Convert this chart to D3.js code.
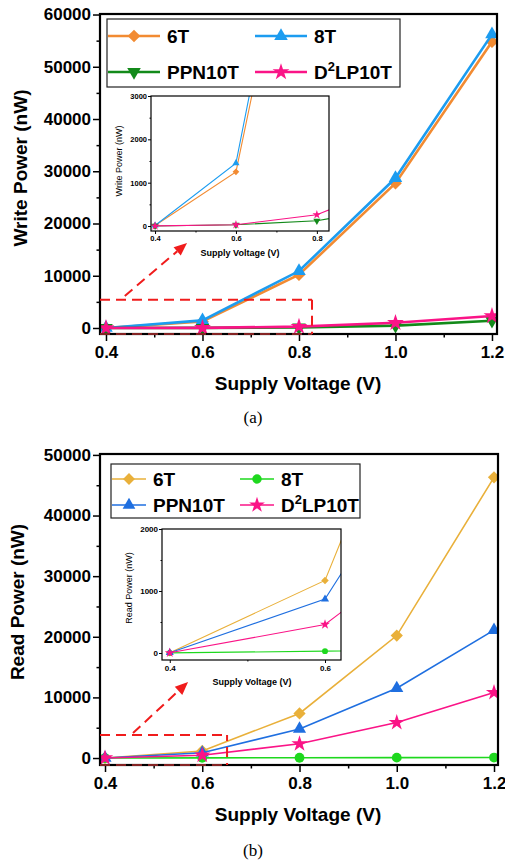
<!DOCTYPE html>
<html>
<head>
<meta charset="utf-8">
<script src="https://cdn.jsdelivr.net/npm/d3@7"></script>
<style>
  body { margin: 0; background: #fff; }
  svg { display: block; }
  text { font-family: "Liberation Sans", Arial, sans-serif; }
</style>
</head>
<body>
<svg id="chart" width="505" height="865"></svg>
<script>
"use strict";

// ---- data ----
var voltages = [0.4, 0.6, 0.8, 1.0, 1.2];
var voltageTicks = [0.4, 0.6, 0.8, 1.0, 1.2];
var voltageMinor = [0.5, 0.7, 0.9, 1.1];

var write6T = [10, 1250, 10200, 27700, 54800];
var write8T = [12, 1450, 10900, 28700, 56200];
var writePPN10T = [2, 28, 120, 450, 1400];
var writeD2LP10T = [3, 30, 260, 1000, 2300];

var read6T = [5, 1170, 7350, 20200, 46300];
var read8T = [2, 30, 45, 60, 80];
var readPPN10T = [4, 870, 4800, 11500, 21100];
var readD2LP10T = [3, 460, 2350, 5850, 10800];

var writeTicks = [0, 10000, 20000, 30000, 40000, 50000, 60000];
var writeMinor = [5000, 15000, 25000, 35000, 45000, 55000];
var readTicks = [0, 10000, 20000, 30000, 40000, 50000];
var readMinor = [5000, 15000, 25000, 35000, 45000];
var insetWriteTicks = [0, 1000, 2000, 3000];
var insetWriteMinor = [500, 1500, 2500];
var insetReadTicks = [0, 1000, 2000];
var insetReadMinor = [500, 1500];

var svg = d3.select("#chart");

var writeSeries = [
  {name: "6T", values: write6T, color: "#f28b32", symbol: "diamond"},
  {name: "8T", values: write8T, color: "#1c9cf0", symbol: "tri"},
  {name: "PPN10T", values: writePPN10T, color: "#138a1a", symbol: "tridown"},
  {name: "D2LP10T", values: writeD2LP10T, color: "#fa1487", symbol: "star"}
];
var readSeries = [
  {name: "6T", values: read6T, color: "#e9b03a", symbol: "diamond"},
  {name: "8T", values: read8T, color: "#1ed81e", symbol: "circle"},
  {name: "PPN10T", values: readPPN10T, color: "#1f6fe0", symbol: "tri"},
  {name: "D2LP10T", values: readD2LP10T, color: "#fa1487", symbol: "star"}
];

function symbolPath(kind, size) {
  var types = {diamond: d3.symbolSquare, tri: d3.symbolTriangle, tridown: d3.symbolTriangle,
               star: d3.symbolStar, circle: d3.symbolCircle};
  var s = size;
  if (kind == "star") s = size * 1.1;
  return d3.symbol(types[kind], s)();
}
function symbolRotate(kind) {
  if (kind == "diamond") return " rotate(45)";
  if (kind == "tridown") return " rotate(180)";
  return "";
}

function drawPanel(cfg, series) {
  var x = d3.scaleLinear().domain(cfg.xDomain).range(cfg.xRange);
  var y = d3.scaleLinear().domain(cfg.yDomain).range(cfg.yRange);
  var g = svg.append("g");
  var left = cfg.xRange[0], right = cfg.xRange[1], top = cfg.yRange[1], bottom = cfg.yRange[0];

  if (cfg.fill) {
    g.append("rect").attr("x", left).attr("y", top).attr("width", right - left)
      .attr("height", bottom - top).attr("fill", "#fff");
  }

  var clipId = cfg.id + "-clip";
  svg.append("clipPath").attr("id", clipId).append("rect")
    .attr("x", left).attr("y", top).attr("width", right - left).attr("height", bottom - top);

  // axes
  var xa = g.append("g").attr("transform", "translate(0," + bottom + ")")
    .call(d3.axisBottom(x).tickValues(cfg.xTicks).tickFormat(d3.format(".1f"))
      .tickSize(cfg.tickLen).tickPadding(cfg.xPad));
  var xm = g.append("g").attr("transform", "translate(0," + bottom + ")")
    .call(d3.axisBottom(x).tickValues(cfg.xMinor).tickFormat("").tickSize(cfg.tickLen / 2));
  var ya = g.append("g").attr("transform", "translate(" + left + ",0)")
    .call(d3.axisLeft(y).tickValues(cfg.yTicks).tickFormat(d3.format("d"))
      .tickSize(cfg.tickLen).tickPadding(cfg.yPad));
  var ym = g.append("g").attr("transform", "translate(" + left + ",0)")
    .call(d3.axisLeft(y).tickValues(cfg.yMinor).tickFormat("").tickSize(cfg.tickLen / 2));
  [xa, xm, ya, ym].forEach(function(a) {
    a.select(".domain").remove();
    a.selectAll("line").attr("stroke", "#000").attr("stroke-width", cfg.tickWidth);
    a.selectAll("text").attr("font-size", cfg.tickFont).attr("font-weight", "bold")
      .attr("fill", "#000").style("font-family", "'Liberation Sans', Arial, sans-serif");
  });

  // series
  var plot = g.append("g").attr("clip-path", "url(#" + clipId + ")");
  var line = d3.line().x(function(d) { return x(d[0]); }).y(function(d) { return y(d[1]); });
  series.forEach(function(s) {
    var pts = voltages.map(function(v, i) { return [v, s.values[i]]; });
    plot.append("path").datum(pts).attr("d", line).attr("fill", "none")
      .attr("stroke", s.color).attr("stroke-width", cfg.lineWidth);
    plot.selectAll(null).data(pts).enter().append("path")
      .attr("d", symbolPath(s.symbol, cfg.markSize))
      .attr("transform", function(d) { return "translate(" + x(d[0]) + "," + y(d[1]) + ")" + symbolRotate(s.symbol); })
      .attr("fill", s.color);
  });

  // frame
  g.append("rect").attr("x", left).attr("y", top).attr("width", right - left)
    .attr("height", bottom - top).attr("fill", "none")
    .attr("stroke", "#000").attr("stroke-width", cfg.frameWidth);

  // titles
  g.append("text").attr("x", cfg.xTitle[0]).attr("y", cfg.xTitle[1]).attr("text-anchor", "middle")
    .attr("font-size", cfg.titleFont).attr("font-weight", "bold").text("Supply Voltage (V)");
  g.append("text").attr("transform", "translate(" + cfg.yTitle[0] + "," + cfg.yTitle[1] + ") rotate(-90)")
    .attr("text-anchor", "middle").attr("font-size", cfg.titleFont)
    .attr("font-weight", cfg.yTitleWeight || "bold").text(cfg.yLabel);

  return {x: x, y: y};
}

function drawLegend(cfg, series) {
  var g = svg.append("g");
  g.append("rect").attr("x", cfg.box[0]).attr("y", cfg.box[1]).attr("width", cfg.box[2])
    .attr("height", cfg.box[3]).attr("fill", "#fff").attr("stroke", "#222").attr("stroke-width", 1.2);
  series.forEach(function(s, i) {
    var cx = cfg.cols[i % 2], cy = cfg.rows[Math.floor(i / 2)];
    g.append("line").attr("x1", cx).attr("x2", cx + cfg.lineLen).attr("y1", cy).attr("y2", cy)
      .attr("stroke", s.color).attr("stroke-width", cfg.lineWidth);
    g.append("path").attr("d", symbolPath(s.symbol, cfg.markSize))
      .attr("transform", "translate(" + (cx + cfg.lineLen / 2) + "," + cy + ")" + symbolRotate(s.symbol))
      .attr("fill", s.color);
    var t = g.append("text").attr("x", cx + cfg.lineLen + 7).attr("y", cy + 7)
      .attr("font-size", cfg.font).attr("font-weight", "bold");
    if (s.name == "D2LP10T") {
      t.append("tspan").text("D");
      t.append("tspan").attr("dy", -8).attr("font-size", cfg.font * 0.68).text("2");
      t.append("tspan").attr("dy", 8).text("LP10T");
    } else {
      t.text(s.name);
    }
  });
}

function drawZoomMarks(sc, rect, arrow, style) {
  var g = svg.append("g").attr("fill", "none").attr("stroke", "#f01c1c")
    .attr("stroke-width", 2).attr("stroke-dasharray", "10,6");
  var x0 = sc.x(rect[0]), x1 = sc.x(rect[1]), y0 = sc.y(rect[2]), y1 = sc.y(rect[3]);
  g.append("path").attr("d", "M" + x0 + "," + y1 + "H" + x1)
  g.append("path").attr("d", "M" + x1 + "," + y1 + "V" + y0).attr("stroke-dashoffset", style.offset);
  g.append("path").attr("d", "M" + x0 + "," + y0 + "H" + x1).attr("stroke", "#b03030").attr("stroke-width", 1.5);
  var ax0 = sc.x(arrow[0]), ay0 = sc.y(arrow[1]), ax1 = sc.x(arrow[2]), ay1 = sc.y(arrow[3]);
  var ang = Math.atan2(ay1 - ay0, ax1 - ax0);
  var hl = 13, hw = 5.5;
  var bx = ax1 - hl * Math.cos(ang), by = ay1 - hl * Math.sin(ang);
  g.append("line").attr("x1", ax0).attr("y1", ay0).attr("x2", bx).attr("y2", by);
  var px = -Math.sin(ang) * hw, py = Math.cos(ang) * hw;
  svg.append("path").attr("d", "M" + ax1 + "," + ay1 + "L" + (bx + px) + "," + (by + py) +
    "L" + (bx - px) + "," + (by - py) + "Z").attr("fill", "#f01c1c");
}

// ---- panel (a): write power ----
var topMain = drawPanel({
  id: "wmain", xDomain: [0.3876, 1.2104], xRange: [100, 497],
  yDomain: [-1150, 60100], yRange: [334, 14],
  xTicks: voltageTicks, xMinor: voltageMinor, yTicks: writeTicks, yMinor: writeMinor,
  tickLen: 7, tickWidth: 1.5, xPad: 5, yPad: 2, tickFont: 17, titleFont: 19,
  lineWidth: 2.6, markSize: 80, frameWidth: 2.2,
  xTitle: [298, 390], yTitle: [27, 168], yLabel: "Write Power (nW)"
}, writeSeries);

drawLegend({box: [107, 19, 293, 68], rows: [36, 72], cols: [108, 255], lineLen: 52,
  lineWidth: 2.6, markSize: 80, font: 19}, writeSeries);

drawPanel({
  id: "winset", fill: true, xDomain: [0.39, 0.83], xRange: [151, 329],
  yDomain: [-115, 3000], yRange: [231, 96],
  xTicks: [0.4, 0.6, 0.8], xMinor: [0.5, 0.7], yTicks: insetWriteTicks, yMinor: insetWriteMinor,
  tickLen: 3, tickWidth: 1, xPad: 2, yPad: 1, tickFont: 7.5, titleFont: 9,
  lineWidth: 1.1, markSize: 22, frameWidth: 1.2,
  xTitle: [240, 256], yTitle: [122, 161], yLabel: "Write Power (nW)", yTitleWeight: "normal"
}, writeSeries);

drawZoomMarks(topMain, [0.3876, 0.827, -1150, 5400], [0.439, 6130, 0.568, 16280], {offset: 0});

svg.append("text").attr("x", 253).attr("y", 423).attr("text-anchor", "middle")
  .attr("font-size", 17).style("font-family", "'Liberation Serif', 'Times New Roman', serif").text("(a)");

// ---- panel (b): read power ----
var botMain = drawPanel({
  id: "rmain", xDomain: [0.3897, 1.2082], xRange: [100, 498],
  yDomain: [-1150, 50150], yRange: [765, 454],
  xTicks: voltageTicks, xMinor: voltageMinor, yTicks: readTicks, yMinor: readMinor,
  tickLen: 7, tickWidth: 1.5, xPad: 5, yPad: 2, tickFont: 17, titleFont: 19,
  lineWidth: 1.6, markSize: 75, frameWidth: 2.2,
  xTitle: [298, 821], yTitle: [24, 602], yLabel: "Read Power (nW)"
}, readSeries);

drawLegend({box: [111, 464, 249, 54], rows: [479, 505], cols: [112, 240], lineLen: 34,
  lineWidth: 1.6, markSize: 70, font: 19}, readSeries);

drawPanel({
  id: "rinset", fill: true, xDomain: [0.39, 0.6206], xRange: [162, 341],
  yDomain: [-113, 2000], yRange: [660, 529],
  xTicks: [0.4, 0.6], xMinor: [0.5], yTicks: insetReadTicks, yMinor: insetReadMinor,
  tickLen: 3, tickWidth: 1, xPad: 2, yPad: 1, tickFont: 8, titleFont: 9,
  lineWidth: 1.1, markSize: 28, frameWidth: 1.2,
  xTitle: [252, 685], yTitle: [132, 588], yLabel: "Read Power (nW)", yTitleWeight: "normal"
}, readSeries);

drawZoomMarks(botMain, [0.3897, 0.651, -1150, 3800], [0.4576, 4125, 0.5708, 12540], {offset: 4});

svg.append("text").attr("x", 253).attr("y", 856).attr("text-anchor", "middle")
  .attr("font-size", 17).style("font-family", "'Liberation Serif', 'Times New Roman', serif").text("(b)");
</script>
</body>
</html>
